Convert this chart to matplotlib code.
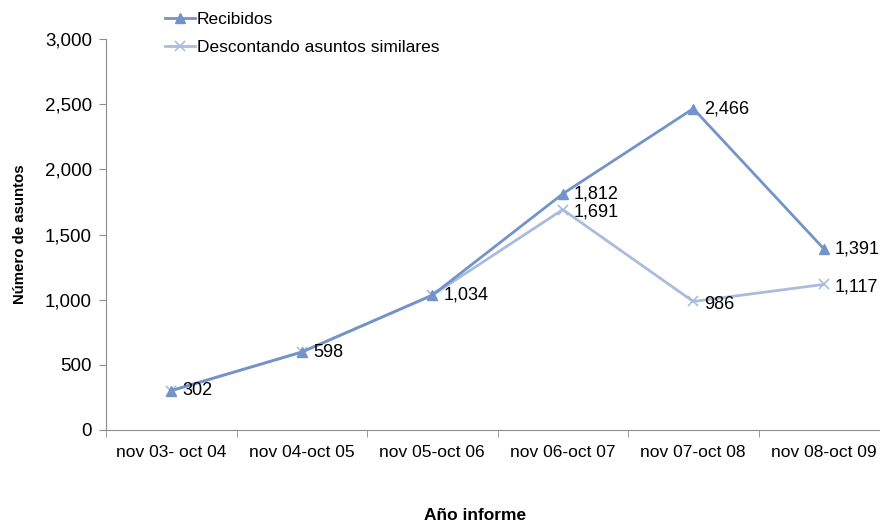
import matplotlib.pyplot as plt
from matplotlib.ticker import FuncFormatter, FixedLocator

plt.rcParams['font.family'] = ['Liberation Sans', 'DejaVu Sans']

# Datos del gráfico
periodos = ["nov 03- oct 04", "nov 04-oct 05", "nov 05-oct 06",
            "nov 06-oct 07", "nov 07-oct 08", "nov 08-oct 09"]
recibidos = [302, 598, 1034, 1812, 2466, 1391]
descontando = [302, 598, 1034, 1691, 986, 1117]

color_rec = "#7393C9"
color_desc = "#AABCDD"
gris = "#8C8C8C"

fig = plt.figure(figsize=(8.8, 5.25), dpi=100)
# el eje sobrepasa el borde derecho, como en el original
ax = fig.add_axes([106 / 880, 1 - 430 / 525, 783 / 880, 391 / 525])

x = list(range(len(periodos)))
ax.plot(x, recibidos, color=color_rec, lw=2, marker="^", ms=7,
        label="Recibidos", zorder=3)
ax.plot(x, descontando, color=color_desc, lw=2, marker="x", ms=7,
        mew=1.2, label="Descontando asuntos similares", zorder=2)

# etiquetas de datos
for i, v in enumerate(recibidos):
    ax.annotate(f"{v:,}", (i, v), xytext=(8, 0), textcoords="offset points",
                va="center", ha="left", fontsize=13, color="black")
for i, v in enumerate(descontando):
    if v == recibidos[i]:
        continue
    ax.annotate(f"{v:,}", (i, v), xytext=(8, -2), textcoords="offset points",
                va="center", ha="left", fontsize=13, color="black")

ax.set_xlim(-0.5, len(periodos) - 0.5)
ax.set_ylim(0, 3000)
ax.set_yticks(range(0, 3001, 500))
ax.yaxis.set_major_formatter(FuncFormatter(lambda v, p: f"{int(v):,}"))
ax.set_xticks(x)
ax.set_xticklabels(periodos, fontsize=12.5)
ax.xaxis.set_minor_locator(FixedLocator([i - 0.5 for i in range(len(periodos) + 1)]))
ax.tick_params(axis="x", which="major", length=0, pad=11)
ax.tick_params(axis="x", which="minor", length=5, color=gris, direction="out")
ax.tick_params(axis="y", length=5, color=gris, labelsize=13.5, pad=5)

for s in ["top", "right"]:
    ax.spines[s].set_visible(False)
for s in ["left", "bottom"]:
    ax.spines[s].set_color(gris)

ax.set_ylabel("Número de asuntos", fontsize=10.8, fontweight="bold", labelpad=13)
fig.text(475 / 880, 1 - 516 / 525, "Año informe", ha="center", va="center",
         fontsize=12.5, fontweight="bold")

ax.legend(loc="upper left", bbox_to_anchor=(52 / 783, 1 + 34 / 391),
          frameon=False, fontsize=12.5, handlelength=1.75, handletextpad=0.1,
          labelspacing=0.72, borderaxespad=0)

fig.savefig("out.png", dpi=100)
